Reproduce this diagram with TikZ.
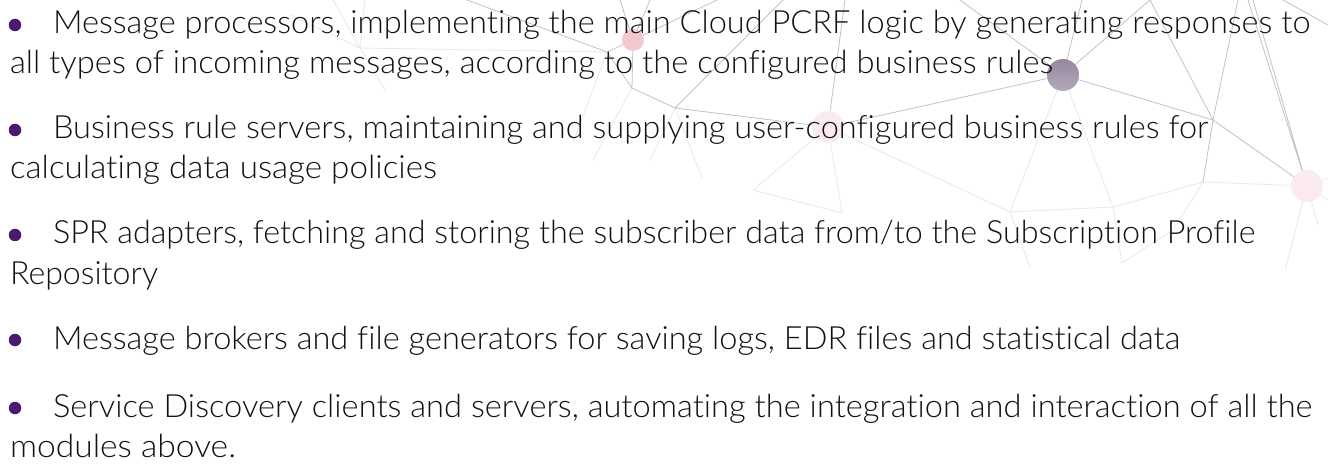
\documentclass[tikz,border=0pt]{standalone}
\usepackage{fontspec}
\usepackage{graphicx}
\setmainfont{Lato}[UprightFont={* Light},
  Ligatures={NoCommon,NoRare,NoContextual},Contextuals=NoAlternate]
\definecolor{ink}{RGB}{18,18,18}
\definecolor{bulletc}{RGB}{75,26,110}
\definecolor{netline}{RGB}{110,95,130}
\definecolor{pinkA}{RGB}{245,200,208}
\definecolor{pinkB}{RGB}{251,234,238}
\definecolor{hubtop}{RGB}{148,137,160}
\definecolor{hubbot}{RGB}{178,170,186}
% stretch a line of text to a given width (in px units)
\newcommand\fitw[2]{\resizebox{#1pt}{\height}{#2}}
\begin{document}
\begin{tikzpicture}[x=1pt,y=-1pt,
  net/.style={draw=netline,line width=0.8pt,opacity=0.4},
  netf/.style={draw=netline,line width=0.8pt,opacity=0.15},
  txt/.style={anchor=base west,inner sep=0pt,outer sep=0pt,text=ink,
    font=\fontsize{32}{38}\selectfont},
  dot/.style={circle,fill=bulletc,inner sep=0pt,minimum size=12.5pt}]
\useasboundingbox (0,0) rectangle (1328,465);
\fill[white] (0,0) rectangle (1328,465);

% ---- background network: border points ----
\coordinate (t1) at (333,0);   \coordinate (t2) at (365,0);
\coordinate (t3) at (467,0);   \coordinate (t4) at (620,0);
\coordinate (t5) at (650,0);   \coordinate (t6) at (717,0);
\coordinate (t7) at (783,0);   \coordinate (t8) at (845,0);
\coordinate (t9) at (960,0);   \coordinate (t10) at (1082,0);
\coordinate (t11) at (1150,0); \coordinate (t12) at (1238,0);
\coordinate (t13) at (1248,0); \coordinate (t14) at (1253,0);
\coordinate (t15) at (1283,0); \coordinate (r1) at (1328,25);
\coordinate (r2) at (1328,178); \coordinate (r3) at (1328,200);
\coordinate (l1) at (290,15);
% ---- junctions ----
\coordinate (j1) at (607,52);  \coordinate (j2) at (632,88);
\coordinate (j3) at (675,108); \coordinate (j4) at (360,48);
\coordinate (j5) at (1213,120); \coordinate (j6) at (1203,182);
\coordinate (j7) at (1010,212); \coordinate (j8) at (842,213);
\coordinate (j9) at (753,190); \coordinate (j10) at (650,160);
\coordinate (j11) at (593,160); \coordinate (j12) at (385,90);
\coordinate (j13) at (1113,207); \coordinate (j14) at (1173,230);
\coordinate (j15) at (1030,267); \coordinate (j16) at (702,178);
\coordinate (j17) at (1122,263); \coordinate (j18) at (1285,270);
\coordinate (j19) at (1318,225); \coordinate (j20) at (573,143);
% ---- hubs ----
\coordinate (A) at (633,40);
\coordinate (C) at (828,127);
\coordinate (B) at (1063,75);
\coordinate (D) at (1307,186);

% stronger links
\path[net] (t3) -- (j1) (j1) -- (A) (j1) -- (j2) (A) -- (j2) (j2) -- (j3)
  (j3) -- (t7) (j3) -- (C) (A) -- (t4) (A) -- (t5) (A) -- (t6)
  (t8) -- (C) (C) -- (B) (t9) -- (B) (B) -- (t10) (B) -- (t11)
  (t11) -- (j5) (B) -- (j5) (j5) -- (t12) (t13) -- (D) (t14) -- (D)
  (t15) -- (r1) (j5) -- (D) (j5) -- (j6);
% faint links
\path[netf] (j4) -- (t1) (j4) -- (t2) (j4) -- (l1) (j4) -- (j1)
  (j4) -- (j12) (j2) -- (j11) (j3) -- (j10) (j3) -- (j16) (j1) -- (j20)
  (C) -- (j8) (C) -- (j7) (C) -- (j9) (B) -- (j7) (B) -- (j13)
  (j6) -- (D) (j6) -- (j14) (j7) -- (j15) (j14) -- (j17) (j17) -- (j13)
  (j6) -- (j13) (D) -- (r2) (D) -- (r3) (D) -- (j18) (D) -- (j19)
  (j7) -- (j13) (j8) -- (j9);

\node[circle,fill=pinkA,inner sep=0pt,minimum size=22pt] (hubA) at (A) {};
\node[circle,fill=pinkB,inner sep=0pt,minimum size=32pt] (hubC) at (C) {};
\node[circle,fill=pinkB,inner sep=0pt,minimum size=32pt] (hubD) at (D) {};
\node[circle,top color=hubtop,bottom color=hubbot,inner sep=0pt,minimum size=32pt] (hubB) at (B) {};

% ---- bullet list ----
\node[dot] (b1) at (15,25) {};
\node[txt] (p1a) at (53,34) {\fitw{1257}{Message processors, implementing the main Cloud PCRF logic by generating responses to}};
\node[txt] (p1b) at (10,74) {\fitw{1043}{all types of incoming messages, according to the configured business rules}};

\node[dot] (b2) at (15,130) {};
\node[txt] (p2a) at (53,139) {\fitw{1155}{Business rule servers, maintaining and supplying user-configured business rules for}};
\node[txt] (p2b) at (10,179) {\fitw{427}{calculating data usage policies}};

\node[dot] (b3) at (15,235) {};
\node[txt] (p3a) at (53,244) {\fitw{1202}{SPR adapters, fetching and storing the subscriber data from/to the Subscription Profile}};
\node[txt] (p3b) at (10,284) {\fitw{148}{Repository}};

\node[dot] (b4) at (15,340) {};
\node[txt] (p4a) at (53,349) {\fitw{1127}{Message brokers and file generators for saving logs, EDR files and statistical data}};

\node[dot] (b5) at (15,408) {};
\node[txt] (p5a) at (53,417) {\fitw{1259}{Service Discovery clients and servers, automating the integration and interaction of all the}};
\node[txt] (p5b) at (10,457) {\fitw{226}{modules above.}};
\end{tikzpicture}
\end{document}
